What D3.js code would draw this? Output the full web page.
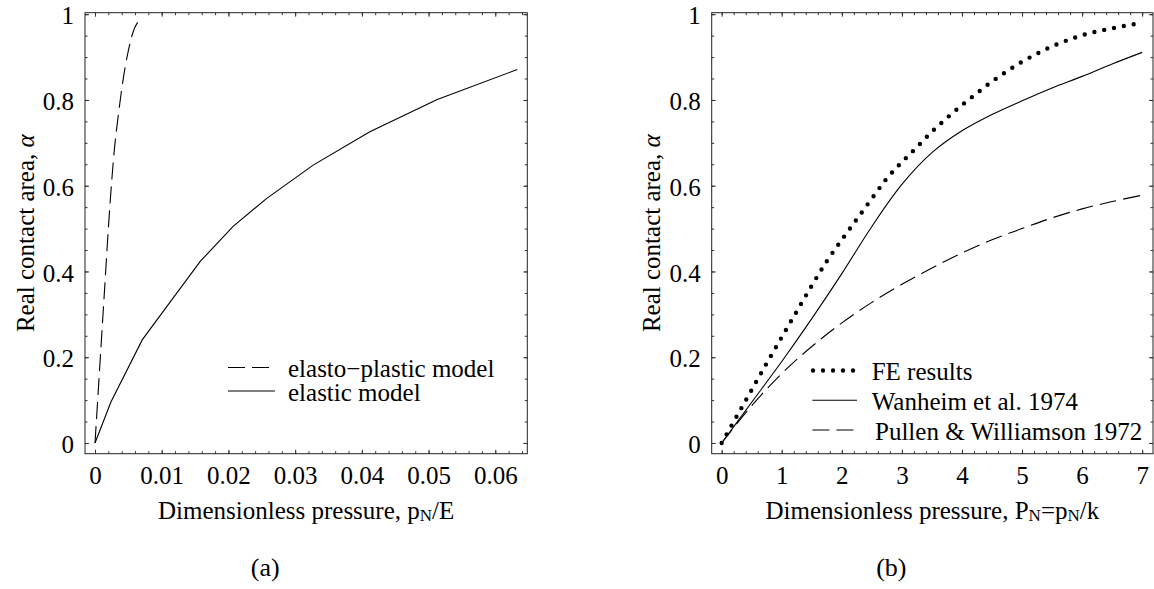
<!DOCTYPE html>
<html>
<head>
<meta charset="utf-8">
<script src="https://cdn.jsdelivr.net/npm/d3@7"></script>
<style>
  body { margin: 0; background: #fff; }
  svg { display: block; }
  text { font-family: "Liberation Serif", "Times New Roman", serif; fill: #000; }
</style>
</head>
<body>
<div id="chart"></div>
<script>
// (a) elastic vs elasto-plastic model
var elasticP = [0, 0.0024, 0.0071, 0.0158, 0.0207, 0.0257, 0.0327, 0.0412, 0.0513, 0.0633];
var elasticA = [0, 0.096, 0.241, 0.424, 0.505, 0.570, 0.648, 0.726, 0.801, 0.871];

var plasticP = [0, 0.0005, 0.001, 0.0015, 0.002, 0.0025, 0.003, 0.0035, 0.004, 0.0045, 0.005, 0.0055, 0.006, 0.0064];
var plasticA = [0, 0.125, 0.25, 0.375, 0.50, 0.61, 0.70, 0.765, 0.825, 0.875, 0.915, 0.948, 0.97, 0.981];

// (b) FE results vs analytical models
var pressureB = [0, 0.25, 0.5, 0.75, 1, 1.25, 1.5, 1.75, 2, 2.25, 2.5, 2.75, 3, 3.25, 3.5, 3.75, 4, 4.25, 4.5, 4.75, 5, 5.25, 5.5, 5.75, 6, 6.25, 6.5, 6.75, 7];
var feA = [0, 0.062, 0.124, 0.186, 0.247, 0.307, 0.367, 0.424, 0.474, 0.522, 0.57, 0.617, 0.655, 0.69, 0.726, 0.758, 0.788, 0.816, 0.843, 0.867, 0.889, 0.908, 0.925, 0.939, 0.951, 0.96, 0.967, 0.974, 0.98];

var modelP = [0, 0.5, 1, 1.5, 2, 2.5, 3, 3.5, 4, 4.5, 5, 5.5, 6, 6.5, 7];
var wanheimA = [0, 0.095, 0.19, 0.29, 0.395, 0.505, 0.603, 0.677, 0.728, 0.766, 0.798, 0.828, 0.855, 0.884, 0.911];
var pullenA = [0, 0.087, 0.162, 0.225, 0.28, 0.328, 0.37, 0.408, 0.443, 0.474, 0.5, 0.525, 0.546, 0.563, 0.578];

var yTicks = [0, 0.2, 0.4, 0.6, 0.8, 1];
var leftXTicks = [0, 0.01, 0.02, 0.03, 0.04, 0.05, 0.06];
var rightXTicks = [0, 1, 2, 3, 4, 5, 6, 7];

var W = 1154, H = 589;
var fontSize = 25;
var dashStyle = "17,7";

var svg = d3.select("#chart").append("svg")
    .attr("width", W)
    .attr("height", H);

function zip(xs, ys) {
    return xs.map(function(v, i) { return [v, ys[i]]; });
}

function drawPanel(opt) {
    var x = d3.scaleLinear().domain(opt.xDomain).range([opt.left, opt.right]);
    var y = d3.scaleLinear().domain([-0.025, 1.0035]).range([453.7, 12.7]);

    var g = svg.append("g");
    var yMinor = d3.range(0, 1.001, 0.05);
    var xMinor = d3.range(0, opt.xDomain[1], opt.xMinorStep);

    function tickAxis(axis, scale, values, size, tx, ty, fmt, pad) {
        var a = axis(scale).tickValues(values).tickSizeInner(-size).tickSizeOuter(0)
            .tickPadding(pad || 0)
            .tickFormat(fmt || "");
        var sel = g.append("g")
            .attr("transform", "translate(" + tx + "," + ty + ")")
            .call(a);
        sel.select(".domain").remove();
        sel.selectAll("line").attr("stroke", "#333");
        sel.selectAll("text")
            .style("font-family", "Liberation Serif")
            .style("font-size", fontSize + "px");
        return sel;
    }

    var bottom = y.range()[0], top = y.range()[1];

    // minor ticks
    tickAxis(d3.axisBottom, x, xMinor, 2.5, 0, bottom);
    tickAxis(d3.axisTop, x, xMinor, 2.5, 0, top);
    tickAxis(d3.axisLeft, y, yMinor, 2.5, opt.left, 0);
    tickAxis(d3.axisRight, y, yMinor, 2.5, opt.right, 0);

    // major ticks
    var xb = tickAxis(d3.axisBottom, x, opt.xTicks, 4, 0, bottom, opt.xFormat, 13);
    xb.selectAll("text").attr("dy", "0.71em");
    tickAxis(d3.axisTop, x, opt.xTicks, 4, 0, top);
    var yl = tickAxis(d3.axisLeft, y, yTicks, 4, opt.left, 0, d3.format("~g"), 11);
    yl.selectAll("text").attr("dy", "0.39em");
    tickAxis(d3.axisRight, y, yTicks, 4, opt.right, 0);

    // frame
    g.append("rect")
        .attr("x", opt.left)
        .attr("y", top)
        .attr("width", opt.right - opt.left)
        .attr("height", bottom - top)
        .attr("fill", "none")
        .attr("stroke", "#222")
        .attr("stroke-width", 1);

    opt.series.forEach(function(s) {
        var line = d3.line()
            .x(function(d) { return x(d[0]); })
            .y(function(d) { return y(d[1]); })
            .curve(s.smooth ? d3.curveCatmullRom : d3.curveLinear);
        g.append("path")
            .datum(zip(s.xs, s.ys))
            .attr("fill", "none")
            .attr("stroke", "#000")
            .attr("stroke-width", s.width)
            .attr("stroke-linecap", s.cap || "butt")
            .attr("stroke-dasharray", s.dash || null)
            .attr("d", line);
    });

    // legend
    opt.legend.forEach(function(l) {
        var s = opt.series[l.series];
        g.append("line")
            .attr("x1", l.x1).attr("x2", l.x2)
            .attr("y1", l.y - 9.5).attr("y2", l.y - 9.5)
            .attr("stroke", "#000")
            .attr("stroke-width", s.width)
            .attr("stroke-linecap", s.cap || "butt")
            .attr("stroke-dasharray", s.dash || null);
        g.append("text")
            .attr("x", l.tx)
            .attr("y", l.y)
            .style("font-size", fontSize + "px")
            .text(l.label);
    });

    // axis titles
    var cx = (opt.left + opt.right) / 2;
    var xt = g.append("text")
        .attr("x", cx)
        .attr("y", 519)
        .attr("text-anchor", "middle")
        .style("font-size", fontSize + "px");
    opt.xTitle.forEach(function(part) {
        var t = xt.append("tspan").text(part.t);
        if (part.sub) {
            t.style("font-size", "17px").attr("dy", 2);
        } else if (part.up) {
            t.attr("dy", -2);
        }
    });

    var cy = (top + bottom) / 2;
    var yt = g.append("text")
        .attr("transform", "translate(" + (opt.left - 51.5) + "," + cy + ") rotate(-90)")
        .attr("text-anchor", "middle")
        .style("font-size", fontSize + "px");
    yt.append("tspan").text("Real contact area, ");
    yt.append("tspan").style("font-style", "italic").text("\u03b1");

    g.append("text")
        .attr("x", cx - 41)
        .attr("y", 576)
        .attr("text-anchor", "middle")
        .style("font-size", "26px")
        .text(opt.caption);
}

drawPanel({
    left: 85, right: 527.3,
    xDomain: [-0.0015, 0.0648],
    xMinorStep: 0.002,
    xTicks: leftXTicks,
    xFormat: d3.format("~g"),
    series: [
        { xs: plasticP, ys: plasticA, width: 1.1, dash: dashStyle, smooth: true },
        { xs: elasticP, ys: elasticA, width: 1.1 }
    ],
    legend: [
        { series: 0, x1: 228, x2: 273, tx: 288, y: 377, label: "elasto\u2212plastic model" },
        { series: 1, x1: 228, x2: 275, tx: 288, y: 400.5, label: "elastic model" }
    ],
    xTitle: [
        { t: "Dimensionless pressure, p" },
        { t: "N", sub: true },
        { t: "/E", up: true }
    ],
    caption: "(a)"
});

drawPanel({
    left: 711.7, right: 1153,
    xDomain: [-0.166, 7.18],
    xMinorStep: 0.2,
    xTicks: rightXTicks,
    xFormat: d3.format("d"),
    series: [
        { xs: pressureB, ys: feA, width: 4.4, dash: "0,10", cap: "round", smooth: true },
        { xs: modelP, ys: wanheimA, width: 1.1, smooth: true },
        { xs: modelP, ys: pullenA, width: 1.1, dash: dashStyle, smooth: true }
    ],
    legend: [
        { series: 0, x1: 813, x2: 855, tx: 871.7, y: 380, label: "FE results" },
        { series: 1, x1: 812.4, x2: 857, tx: 871.7, y: 409.8, label: "Wanheim et al. 1974" },
        { series: 2, x1: 812.4, x2: 856, tx: 875, y: 439.5, label: "Pullen & Williamson 1972" }
    ],
    xTitle: [
        { t: "Dimensionless pressure, P" },
        { t: "N", sub: true },
        { t: "=p", up: true },
        { t: "N", sub: true },
        { t: "/k", up: true }
    ],
    caption: "(b)"
});
</script>
</body>
</html>
